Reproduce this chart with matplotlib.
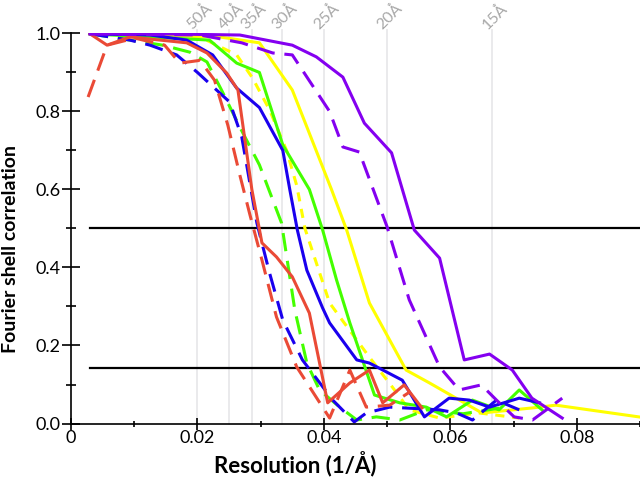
import numpy as np
import matplotlib
matplotlib.use('Agg')
import matplotlib.pyplot as plt
from matplotlib.ticker import MultipleLocator, FuncFormatter

# resolution markers (Angstrom)
marker_res = [50, 40, 35, 30, 25, 20, 15]

# FSC curves: (x = 1/A, y = FSC)
purple_x = [0.003, 0.014, 0.0267, 0.035, 0.0388, 0.043, 0.0464, 0.0507, 0.0543, 0.0583, 0.0622, 0.0662, 0.0698, 0.0729, 0.0777]
purple_y = [0.999, 0.999, 0.996, 0.970, 0.940, 0.888, 0.770, 0.694, 0.496, 0.424, 0.163, 0.178, 0.137, 0.065, 0.014]

purple_d_x = [0.003, 0.0204, 0.027, 0.0319, 0.035, 0.0409, 0.043, 0.0456, 0.050, 0.0535, 0.0583, 0.0614, 0.0649, 0.0673, 0.0701, 0.073, 0.0777]
purple_d_y = [0.999, 0.996, 0.976, 0.950, 0.945, 0.800, 0.709, 0.696, 0.504, 0.317, 0.145, 0.086, 0.099, 0.060, 0.017, 0.009, 0.065]

yellow_x = [0.003, 0.0235, 0.0298, 0.035, 0.0412, 0.0436, 0.0472, 0.053, 0.0567, 0.065, 0.073, 0.0767, 0.0898]
yellow_y = [0.999, 0.991, 0.976, 0.855, 0.600, 0.496, 0.309, 0.137, 0.104, 0.027, 0.040, 0.047, 0.017]

yellow_d_x = [0.003, 0.0204, 0.0262, 0.0287, 0.0314, 0.0341, 0.0357, 0.037, 0.0409, 0.0472, 0.0508, 0.0535, 0.0583, 0.0646, 0.0709]
yellow_d_y = [0.999, 0.991, 0.945, 0.886, 0.804, 0.700, 0.610, 0.500, 0.309, 0.170, 0.094, 0.035, 0.014, 0.027, 0.014]

green_x = [0.003, 0.0219, 0.0262, 0.0298, 0.0335, 0.0377, 0.0398, 0.042, 0.0441, 0.048, 0.052, 0.0562, 0.0594, 0.0635, 0.0677, 0.0709, 0.0745]
green_y = [0.999, 0.983, 0.924, 0.900, 0.714, 0.600, 0.496, 0.368, 0.258, 0.073, 0.053, 0.042, 0.017, 0.060, 0.035, 0.086, 0.035]

green_d_x = [0.003, 0.0145, 0.0188, 0.0215, 0.0238, 0.0267, 0.0298, 0.0333, 0.0354, 0.0373, 0.0393, 0.0425, 0.0452, 0.0483, 0.052, 0.0562, 0.062, 0.068]
green_d_y = [0.999, 0.970, 0.952, 0.927, 0.855, 0.760, 0.663, 0.514, 0.291, 0.155, 0.086, 0.042, 0.009, 0.017, 0.009, 0.035, 0.025, 0.040]

blue_x = [0.003, 0.0125, 0.0183, 0.0224, 0.0262, 0.0298, 0.0335, 0.0346, 0.0358, 0.0373, 0.0398, 0.0409, 0.0452, 0.0472, 0.0524, 0.0559, 0.0598, 0.063, 0.0662, 0.0709, 0.0741]
blue_y = [0.999, 0.996, 0.983, 0.945, 0.860, 0.810, 0.700, 0.600, 0.496, 0.393, 0.296, 0.258, 0.163, 0.155, 0.111, 0.017, 0.065, 0.060, 0.042, 0.065, 0.053]

blue_d_x = [0.003, 0.0093, 0.0125, 0.0167, 0.020, 0.0251, 0.027, 0.0294, 0.0314, 0.0335, 0.0366, 0.0414, 0.0448, 0.0467, 0.0504, 0.0583, 0.061, 0.0635, 0.0673, 0.0709]
blue_d_y = [0.999, 0.983, 0.970, 0.945, 0.900, 0.824, 0.735, 0.514, 0.386, 0.265, 0.163, 0.060, 0.004, 0.027, 0.042, 0.035, 0.027, 0.009, 0.060, 0.035]

red_x = [0.003, 0.0057, 0.0093, 0.0183, 0.0215, 0.0246, 0.0264, 0.0286, 0.0302, 0.0325, 0.035, 0.0377, 0.0406, 0.0441, 0.0472, 0.0493, 0.0527, 0.0555]
red_y = [0.999, 0.970, 0.991, 0.976, 0.950, 0.899, 0.855, 0.600, 0.463, 0.427, 0.376, 0.283, 0.053, 0.104, 0.137, 0.053, 0.099, 0.040]

red_d_x = [0.0027, 0.0057, 0.0101, 0.0148, 0.0172, 0.0204, 0.0227, 0.0248, 0.0267, 0.0283, 0.0302, 0.0325, 0.0357, 0.0409, 0.0441, 0.0467, 0.0504, 0.0535]
red_d_y = [0.837, 0.970, 0.988, 0.970, 0.924, 0.931, 0.880, 0.765, 0.637, 0.535, 0.419, 0.273, 0.145, 0.014, 0.137, 0.042, 0.047, 0.080]

thresholds = [0.5, 0.143]

plt.rcParams['font.family'] = ['Lato', 'DejaVu Sans']

fig = plt.figure(figsize=(6.4, 4.78), dpi=100)
ax = fig.add_axes([0.111, 0.114, 0.889, 0.816])

# resolution guide lines and labels
for r in marker_res:
    ax.plot([1.0 / r, 1.0 / r], [0, 1.01], color='#e8e8ea', lw=1.3, zorder=0, clip_on=False)
    ax.annotate('%d\u00c5' % r, xy=(1.0 / r, 1.0), xytext=(-5, 3), textcoords='offset pixels',
                rotation=45, rotation_mode='anchor', ha='left', va='baseline',
                color='#a8a8a8', fontsize=11.5, annotation_clip=False)

for t in thresholds:
    ax.plot([0.003, 0.09], [t, t], color='black', lw=1.6, zorder=1)

dash = (0, (6, 3.2))
short = (0, (3, 2.5))
lw = 2.2
ax.plot(yellow_x, yellow_y, color='#ffff00', lw=lw)
ax.plot(yellow_d_x, yellow_d_y, color='#ffff00', lw=lw, linestyle=short)
ax.plot(green_x, green_y, color='#44ff00', lw=lw)
ax.plot(green_d_x, green_d_y, color='#44ff00', lw=lw, linestyle=dash)
ax.plot(blue_x, blue_y, color='#1a00ee', lw=lw)
ax.plot(blue_d_x, blue_d_y, color='#1a00ee', lw=lw, linestyle=dash)
ax.plot(red_x, red_y, color='#ea4a36', lw=lw)
ax.plot(red_d_x, red_d_y, color='#ea4a36', lw=lw, linestyle=dash)
ax.plot(purple_x, purple_y, color='#8400f0', lw=lw)
ax.plot(purple_d_x, purple_d_y, color='#8400f0', lw=lw, linestyle=dash)

ax.set_xlim(0, 0.09)
ax.set_ylim(0, 1.0)
ax.spines['top'].set_visible(False)
ax.spines['right'].set_visible(False)
ax.spines['left'].set_linewidth(1.2)
ax.spines['bottom'].set_linewidth(1.2)

ax.xaxis.set_major_locator(MultipleLocator(0.02))
ax.xaxis.set_minor_locator(MultipleLocator(0.01))
ax.yaxis.set_major_locator(MultipleLocator(0.2))
ax.yaxis.set_minor_locator(MultipleLocator(0.1))
ax.xaxis.set_major_formatter(FuncFormatter(lambda v, p: '0' if abs(v) < 1e-9 else '%.2f' % v))
ax.yaxis.set_major_formatter(FuncFormatter(lambda v, p: '%.1f' % v))

ax.tick_params(axis='x', which='major', direction='inout', length=8, width=1.2, labelsize=13, pad=1)
ax.tick_params(axis='x', which='minor', direction='inout', length=4.5, width=1.2)
ax.tick_params(axis='y', which='major', direction='inout', length=13, width=1.2, labelsize=13, pad=1)
ax.tick_params(axis='y', which='minor', direction='inout', length=7, width=1.2)

ax.set_xlabel('Resolution (1/\u00c5)', fontsize=16, fontweight='bold')
ax.set_ylabel('Fourier shell correlation', fontsize=14, fontweight='bold')
ax.xaxis.set_label_coords(0.394, -0.07)
ax.yaxis.set_label_coords(-0.091, 0.447)

plt.savefig('out.png', dpi=100)
